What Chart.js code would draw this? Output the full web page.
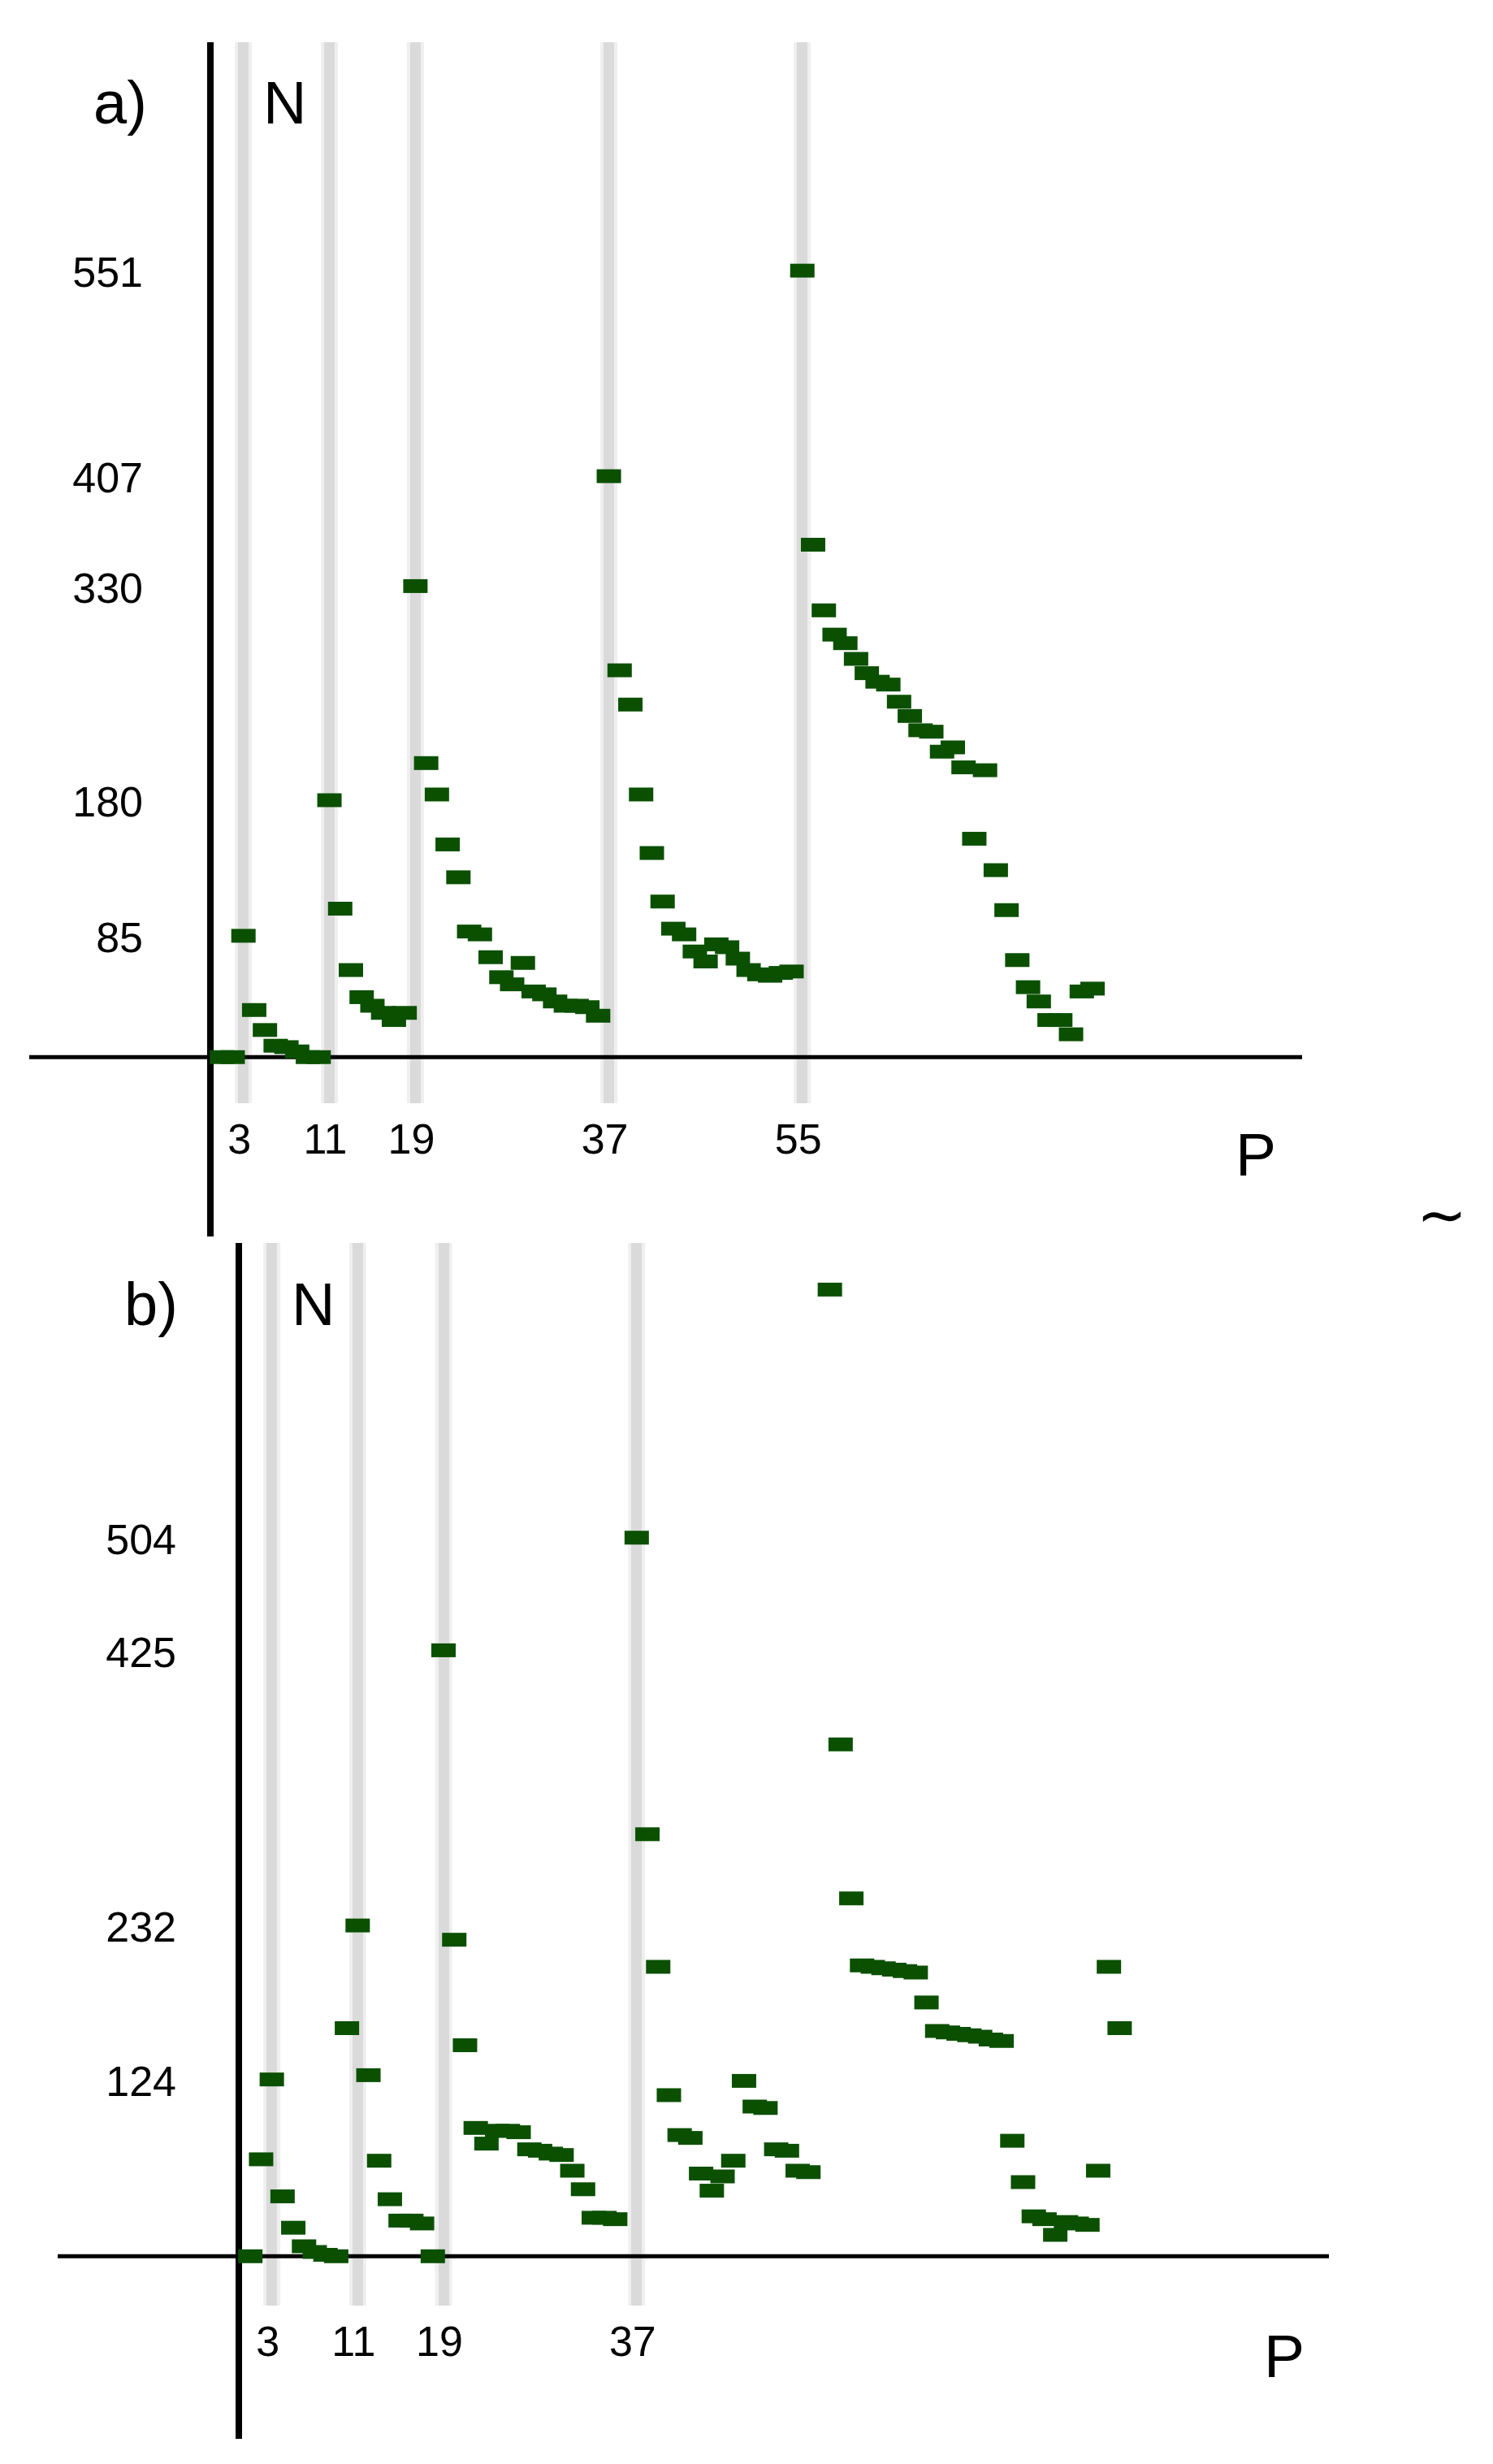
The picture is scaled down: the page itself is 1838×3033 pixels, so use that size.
<!DOCTYPE html>
<html lang="en">
<head>
    <meta charset="UTF-8">
    <title>N against P</title>
    <script src="https://cdn.jsdelivr.net/npm/chart.js"></script>
    <style>
        html, body { margin: 0; padding: 0; background: #fff; }
        body {
            width: 1838px;
            height: 3033px;
            position: relative;
            overflow: hidden;
            font-family: "Liberation Sans", Arial, sans-serif;
        }
        .panel { position: absolute; left: 0; width: 1838px; }
        #panelA { top: 0; height: 1525px; }
        #panelB { top: 1480px; height: 1553px; }
        .lbl {
            position: absolute;
            font-size: 74px;
            line-height: 1;
            color: #000;
            white-space: nowrap;
        }
        .big { font-size: 75px; }
        .tilde { font-family: "DejaVu Sans", sans-serif; font-size: 74px; }
    </style>
</head>
<body>
    <div class="panel" id="panelA"><canvas id="chartA" width="1838" height="1525"></canvas></div>
    <div class="panel" id="panelB"><canvas id="chartB" width="1838" height="1553"></canvas></div>

    <!-- panel captions and axis names -->
    <span class="lbl" style="left:115px; top:90px;">a)</span>
    <span class="lbl" style="left:324px; top:90px;">N</span>
    <span class="lbl big" style="left:1521px; top:1384px;">P</span>
    <span class="lbl" style="left:153px; top:1569px;">b)</span>
    <span class="lbl" style="left:359px; top:1569px;">N</span>
    <span class="lbl big" style="left:1556px; top:2863px;">P</span>
    <span class="lbl tilde" style="left:1744px; top:1458px;">∼</span>

    <script>
        // P values (same for both panels)
        const pValues = [
            1, 2, 3, 4, 5, 6, 7, 8, 9, 10,
            11, 12, 13, 14, 15, 16, 17, 18, 19, 20,
            21, 22, 23, 24, 25, 26, 27, 28, 29, 30,
            31, 32, 33, 34, 35, 36, 37, 38, 39, 40,
            41, 42, 43, 44, 45, 46, 47, 48, 49, 50,
            51, 52, 53, 54, 55, 56, 57, 58, 59, 60,
            61, 62, 63, 64, 65, 66, 67, 68, 69, 70,
            71, 72, 73, 74, 75, 76, 77, 78, 79, 80,
            81, 82
        ];

        // panel a) N for each P
        const countsA = [
            0, 0, 85, 33, 19, 8, 7, 4, 0, 0,
            180, 104, 61, 42, 36, 31, 26, 31, 330, 206,
            184, 149, 126, 88, 86, 70, 56, 51, 66, 46,
            44, 39, 36, 36, 35, 29, 407, 271, 247, 184,
            143, 109, 90, 86, 74, 67, 79, 77, 69, 61,
            58, 57, 59, 60, 551, 359, 313, 296, 290, 279,
            269, 263, 261, 249, 239, 229, 228, 214, 217, 203,
            153, 201, 131, 103, 68, 49, 39, 26, 26, 16,
            46, 48
        ];

        // panel b) N for each P (null = no mark)
        const countsB = [
            0, 68, 124, 42, 20, 7, 3, 1, 0, 160,
            232, 127, 67, 40, 25, 25, 23, 0, 425, 222,
            148, 90, 79, 88, 88, 87, 75, 74, 72, 71,
            60, 47, 27, 27, 26, null, 504, 296, 203, 113,
            85, 83, 58, 46, 56, 67, 123, 105, 104, 75,
            74, 60, 59, null, 678, 359, 251, 204, 203, 202,
            201, 200, 199, 178, 158, 157, 156, 155, 154, 152,
            151, 81, 52, 28, 26, 15, 24, 23, 22, 60,
            203, 160
        ];

        const xTicksA = [3, 11, 19, 37, 55];
        const yTicksA = [85, 180, 330, 407, 551];
        const xTicksB = [3, 11, 19, 37];
        const yTicksB = [124, 232, 425, 504];

        const markColor = '#0a5000';
        const tickFont = { family: '"Liberation Sans", Arial, sans-serif', size: 52, lineHeight: 1.2 };

        // black axes through the origin, drawn under the marks
        const crossAxes = {
            id: 'crossAxes',
            beforeDraw(chart) {
                const ctx = chart.ctx, area = chart.chartArea, xs = chart.scales.x;
                ctx.save();
                ctx.strokeStyle = '#efefef';
                ctx.lineWidth = 21;
                xs.ticks.forEach(t => {
                    const px = xs.getPixelForValue(t.value);
                    ctx.beginPath();
                    ctx.moveTo(px, area.top);
                    ctx.lineTo(px, area.bottom);
                    ctx.stroke();
                });
                ctx.restore();
            },
            beforeDatasetsDraw(chart) {
                const ctx = chart.ctx, area = chart.chartArea;
                const x0 = chart.scales.x.getPixelForValue(0);
                const y0 = chart.scales.y.getPixelForValue(0);
                ctx.save();
                ctx.strokeStyle = '#000';
                ctx.lineWidth = 8;
                ctx.beginPath();
                ctx.moveTo(x0 - 1, area.top);
                ctx.lineTo(x0 - 1, area.bottom + 164);
                ctx.stroke();
                ctx.lineWidth = 5;
                ctx.beginPath();
                ctx.moveTo(x0 - 224, y0);
                ctx.lineTo(area.right, y0);
                ctx.stroke();
                ctx.restore();
            }
        };

        function noPadding(s) {
            s.paddingTop = 0;
            s.paddingBottom = 0;
            s.paddingLeft = 0;
            s.paddingRight = 0;
        }

        function makePanel(canvasId, counts, xTicks, yTicks, g) {
            const points = [];
            pValues.forEach((p, i) => {
                if (counts[i] !== null) points.push({ x: p, y: counts[i] });
            });
            const canvas = document.getElementById(canvasId);
            return new Chart(canvas, {
                type: 'scatter',
                data: {
                    datasets: [{
                        data: points,
                        pointStyle: 'line',
                        pointRadius: 15,
                        pointBorderWidth: 17,
                        pointBorderColor: markColor,
                        pointBackgroundColor: markColor,
                        clip: false
                    }]
                },
                options: {
                    responsive: false,
                    animation: false,
                    events: [],
                    layout: { padding: { left: 0, top: g.top, right: canvas.width - g.right, bottom: 0 } },
                    plugins: { legend: { display: false }, tooltip: { enabled: false } },
                    scales: {
                        x: {
                            type: 'linear',
                            min: 0,
                            max: 101.5,
                            afterBuildTicks: s => { s.ticks = xTicks.map(v => ({ value: v })); },
                            afterFit: s => { s.height = canvas.height - g.bottom; noPadding(s); },
                            grid: { color: '#dadada', lineWidth: 13, drawTicks: false },
                            border: { display: false },
                            ticks: {
                                font: tickFont, color: '#000', padding: 16, labelOffset: -5,
                                maxRotation: 0, autoSkip: false, callback: v => String(v)
                            }
                        },
                        y: {
                            type: 'linear',
                            min: g.yMin,
                            max: g.yMax,
                            afterBuildTicks: s => { s.ticks = yTicks.map(v => ({ value: v })); },
                            afterFit: s => { s.width = g.left; noPadding(s); },
                            grid: { display: false },
                            border: { display: false },
                            ticks: {
                                font: tickFont, color: '#000', padding: g.labelPad, labelOffset: 6,
                                autoSkip: false, callback: v => String(v)
                            }
                        }
                    }
                },
                plugins: [crossAxes]
            });
        }

        makePanel('chartA', countsA, xTicksA, yTicksA,
            { left: 260, right: 1603, top: 52, bottom: 1358, yMin: -32.3, yMax: 711, labelPad: 76 });
        makePanel('chartB', countsB, xTicksB, yTicksB,
            { left: 295, right: 1636, top: 50, bottom: 1358, yMin: -34.6, yMax: 710.7, labelPad: 70 });
    </script>
</body>
</html>
